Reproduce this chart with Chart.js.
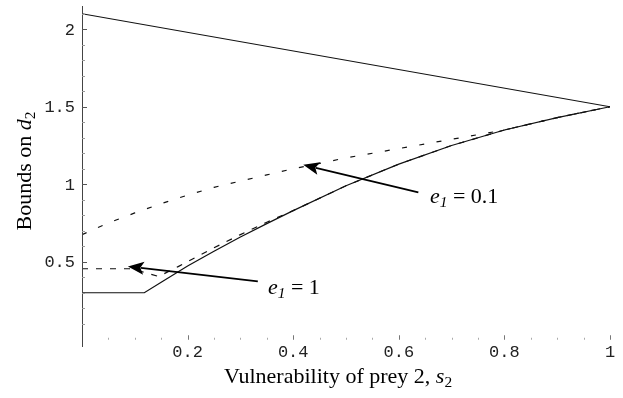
<!DOCTYPE html>
<html>
<head>
<meta charset="utf-8">
<script src="https://cdn.jsdelivr.net/npm/chart.js@4/dist/chart.umd.min.js"></script>
<style>
  body { margin: 0; background: #fff; }
  #wrap { width: 623px; height: 398px; }
</style>
</head>
<body>
<div id="wrap"><canvas id="chart" width="623" height="398"></canvas></div>
<script>
// upper bound on d2 (straight line)
const upperX = [0, 1];
const upperY = [2.1, 1.5];

// lower bound, solid
const lowerX = [0, 0.118, 0.15, 0.2, 0.25, 0.3, 0.35, 0.4, 0.5, 0.6, 0.7, 0.8, 0.9, 1];
const lowerY = [0.3, 0.3, 0.368, 0.472, 0.568, 0.66, 0.746, 0.83, 0.99, 1.13, 1.25, 1.35, 1.43, 1.5];

// dashed bound for e1 = 0.1
const e01X = [0, 0.05, 0.1, 0.15, 0.2, 0.25, 0.3, 0.35, 0.4, 0.5, 0.6, 0.7, 0.8, 0.9, 1];
const e01Y = [0.675, 0.75, 0.815, 0.875, 0.93, 0.98, 1.02, 1.06, 1.1, 1.17, 1.23, 1.29, 1.35, 1.43, 1.5];

// dashed bound for e1 = 1
const e1X = [0, 0.09, 0.12, 0.145, 0.183, 0.25, 0.3, 0.35, 0.4, 0.5, 0.6, 0.7, 0.8, 0.9, 1];
const e1Y = [0.455, 0.455, 0.43, 0.405, 0.47, 0.59, 0.675, 0.755, 0.83, 0.99, 1.13, 1.25, 1.35, 1.43, 1.5];

const xTicks = [0.2, 0.4, 0.6, 0.8, 1];
const xTickLabels = ["0.2", "0.4", "0.6", "0.8", "1"];
const yTicks = [0.5, 1, 1.5, 2];
const yTickLabels = ["0.5", "1", "1.5", "2"];

// arrows: [tailX, tailY, tipX, tipY] in data units
const arrow01 = [0.637, 0.947, 0.419, 1.126];
const arrow1 = [0.333, 0.373, 0.087, 0.47];

const pts = (xs, ys) => xs.map((x, i) => ({ x, y: ys[i] }));

const SERIF = '"Liberation Serif", "Times New Roman", serif';
const MONO = '"Liberation Mono", "Courier New", monospace';

// draws text made of pieces (italic / subscript), returns width
function richText(ctx, parts, x, y, size, align) {
    const fontOf = p => (p.italic ? "italic " : "") + (p.sub ? size * 0.7 : size) + "px " + SERIF;
    let total = 0;
    parts.forEach(p => { ctx.font = fontOf(p); total += ctx.measureText(p.t).width; });
    let cx = align === "center" ? x - total / 2 : x;
    ctx.textAlign = "left";
    ctx.textBaseline = "alphabetic";
    parts.forEach(p => {
        ctx.font = fontOf(p);
        ctx.fillText(p.t, cx, p.sub ? y + size * 0.2 : y);
        cx += ctx.measureText(p.t).width;
    });
    return total;
}

function arrow(ctx, xs, ys, a) {
    const x0 = xs.getPixelForValue(a[0]), y0 = ys.getPixelForValue(a[1]);
    const x1 = xs.getPixelForValue(a[2]), y1 = ys.getPixelForValue(a[3]);
    const ang = Math.atan2(y1 - y0, x1 - x0);
    const len = 16, half = 6.5;
    const bx = x1 - len * Math.cos(ang), by = y1 - len * Math.sin(ang);
    ctx.strokeStyle = "#000";
    ctx.lineWidth = 1.8;
    ctx.beginPath();
    ctx.moveTo(x0, y0);
    ctx.lineTo(bx + 3 * Math.cos(ang), by + 3 * Math.sin(ang));
    ctx.stroke();
    ctx.fillStyle = "#000";
    ctx.beginPath();
    ctx.moveTo(x1, y1);
    ctx.lineTo(bx + half * Math.sin(ang), by - half * Math.cos(ang));
    ctx.lineTo(bx + 3.5 * Math.cos(ang), by + 3.5 * Math.sin(ang));
    ctx.lineTo(bx - half * Math.sin(ang), by + half * Math.cos(ang));
    ctx.closePath();
    ctx.fill();
}

const axesPlugin = {
    id: "mathAxes",
    afterDatasetsDraw(chart) {
        const ctx = chart.ctx;
        const xs = chart.scales.x, ys = chart.scales.y;
        const x0 = xs.getPixelForValue(0), y0 = ys.getPixelForValue(0);
        ctx.save();

        // vertical axis
        ctx.strokeStyle = "#444";
        ctx.lineWidth = 1;
        ctx.beginPath();
        ctx.moveTo(x0 + 0.5, ys.getPixelForValue(ys.max));
        ctx.lineTo(x0 + 0.5, ys.getPixelForValue(ys.min));
        ctx.stroke();

        // y ticks, minor every 0.1
        for (let v = 0.1; v < 2.15; v += 0.1) {
            const py = Math.round(ys.getPixelForValue(v)) + 0.5;
            const major = yTicks.some(t => Math.abs(t - v) < 1e-6);
            ctx.strokeStyle = major ? "#555" : "#999";
            ctx.beginPath();
            ctx.moveTo(x0, py);
            ctx.lineTo(x0 + (major ? 5 : 3), py);
            ctx.stroke();
        }
        // x ticks, minor every 0.05
        for (let v = 0.05; v <= 1.001; v += 0.05) {
            const px = Math.round(xs.getPixelForValue(v)) + 0.5;
            const major = xTicks.some(t => Math.abs(t - v) < 1e-6);
            ctx.strokeStyle = major ? "#777" : "#aaa";
            ctx.beginPath();
            ctx.moveTo(px, y0 + 0.5);
            ctx.lineTo(px, y0 - (major ? 4 : 1.5));
            ctx.stroke();
        }

        // tick labels
        ctx.fillStyle = "#222";
        ctx.font = "17px " + MONO;
        ctx.textAlign = "right";
        ctx.textBaseline = "middle";
        yTicks.forEach((v, i) => ctx.fillText(yTickLabels[i], x0 - 7, ys.getPixelForValue(v) + 1));
        ctx.textAlign = "center";
        ctx.textBaseline = "top";
        xTicks.forEach((v, i) => ctx.fillText(xTickLabels[i], xs.getPixelForValue(v), y0 + 5));

        // axis titles
        ctx.fillStyle = "#000";
        richText(ctx, [
            { t: "Vulnerability of prey 2, " },
            { t: "s", italic: true },
            { t: "2", sub: true }
        ], 338, 383, 22, "center");
        ctx.save();
        ctx.translate(31, 171);
        ctx.rotate(-Math.PI / 2);
        richText(ctx, [
            { t: "Bounds on " },
            { t: "d", italic: true },
            { t: "2", sub: true }
        ], 0, 0, 22, "center");
        ctx.restore();

        // annotations
        arrow(ctx, xs, ys, arrow01);
        arrow(ctx, xs, ys, arrow1);
        ctx.fillStyle = "#000";
        richText(ctx, [
            { t: "e", italic: true },
            { t: "1", italic: true, sub: true },
            { t: " = 0.1" }
        ], 430, 203, 22, "left");
        richText(ctx, [
            { t: "e", italic: true },
            { t: "1", italic: true, sub: true },
            { t: " = 1" }
        ], 268, 294, 22, "left");

        ctx.restore();
    }
};

const line = (data, dash, width) => ({
    data,
    showLine: true,
    borderColor: "#111",
    borderWidth: width,
    borderDash: dash,
    pointRadius: 0,
    tension: 0,
    fill: false
});

new Chart(document.getElementById("chart").getContext("2d"), {
    type: "scatter",
    data: {
        datasets: [
            line(pts(upperX, upperY), [], 1.2),
            line(pts(lowerX, lowerY), [], 1.2),
            line(pts(e01X, e01Y), [5, 12.5], 1.2),
            line(pts(e1X, e1Y), [6, 8], 1.2)
        ]
    },
    options: {
        responsive: false,
        animation: false,
        layout: { padding: { left: 82, right: 13, top: 6, bottom: 51 } },
        plugins: { legend: { display: false }, tooltip: { enabled: false } },
        scales: {
            x: { type: "linear", min: 0, max: 1, display: false },
            y: { type: "linear", min: -0.05, max: 2.15, display: false }
        }
    },
    plugins: [axesPlugin]
});
</script>
</body>
</html>
